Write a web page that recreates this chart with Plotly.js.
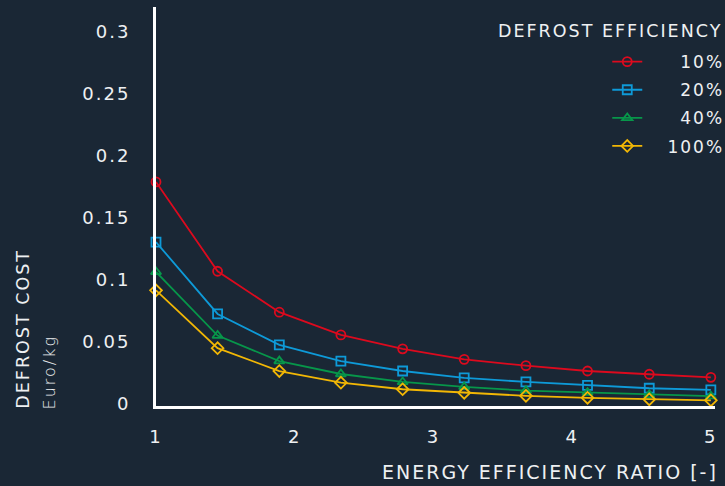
<!DOCTYPE html>
<html><head><meta charset="utf-8">
<script src="https://cdn.plot.ly/plotly-3.0.1.min.js"></script>
<style>
html,body{margin:0;padding:0;background:#1a2735;}
text{letter-spacing:2px;}
</style>
</head><body>
<div id="chart" style="width:725px;height:486px;"></div>
<script>
var eer = [1, 1.444, 1.889, 2.333, 2.778, 3.222, 3.667, 4.111, 4.556, 5];
var cost10 = [0.179, 0.107, 0.074, 0.0557, 0.0445, 0.036, 0.0309, 0.0266, 0.024, 0.0215];
var cost20 = [0.1305, 0.0726, 0.0477, 0.0346, 0.0266, 0.021, 0.0178, 0.0151, 0.0127, 0.0114];
var cost40 = [0.1065, 0.0552, 0.0346, 0.0242, 0.0178, 0.0138, 0.0108, 0.0092, 0.0074, 0.0063];
var cost100 = [0.0916, 0.045, 0.0266, 0.0172, 0.0119, 0.009, 0.0066, 0.005, 0.0038, 0.003];
var seriesNames = ['\u00a0\u2007\u200710%', '\u00a0\u2007\u200720%', '\u00a0\u2007\u200740%', '\u00a0\u2007100%'];
var yTicks = [0, 0.05, 0.1, 0.15, 0.2, 0.25, 0.3];
var yTickText = ['0', '0.05', '0.1', '0.15', '0.2', '0.25', '0.3'];
var xTicks = [1, 2, 3, 4, 5];
var xTickText = ['1', '2', '3', '4', '5'];

var FONT = '"DejaVu Sans", sans-serif';
var TXT = '#eef0f2';
var colors = ['#dc0a1e', '#0e9ad8', '#07964a', '#f2b705'];
var symbols = ['circle-open', 'square-open', 'triangle-up-open', 'diamond-open'];
var ys = [cost10, cost20, cost40, cost100];

var traces = ys.map(function (y, i) {
  return {
    x: eer, y: y, name: seriesNames[i], legendgroup: 'g' + i, type: 'scatter', mode: 'lines+markers',
    line: {color: colors[i], width: 1.8},
    marker: {symbol: symbols[i], size: 9, color: colors[i], line: {width: 1.8, color: colors[i]}},
    cliponaxis: false
  };
});

var layout = {
  width: 725, height: 486,
  paper_bgcolor: '#1a2735', plot_bgcolor: '#1a2735',
  margin: {l: 156, r: 10, t: 7, b: 80, autoexpand: false},
  font: {family: FONT, color: TXT, size: 18},
  showlegend: true,
  legend: {
    x: 1.0255, xanchor: 'right', y: 0.907, yanchor: 'top',
    bgcolor: 'rgba(0,0,0,0)', font: {family: FONT, color: TXT, size: 17},
    itemwidth: 30, tracegroupgap: 3
  },
  xaxis: {
    range: [1, 5.03], tickvals: xTicks, ticktext: xTickText,
    showgrid: false, zeroline: false, showline: true, linecolor: '#ffffff', linewidth: 3,
    ticks: 'outside', ticklen: 12, tickcolor: 'rgba(0,0,0,0)',
    tickfont: {family: FONT, color: TXT, size: 18}
  },
  yaxis: {
    range: [-0.0016, 0.32], tickvals: yTicks, ticktext: yTickText,
    showgrid: false, zeroline: false, showline: true, linecolor: '#ffffff', linewidth: 3,
    ticks: 'outside', ticklen: 19, tickcolor: 'rgba(0,0,0,0)',
    tickfont: {family: FONT, color: TXT, size: 18}
  },
  annotations: [
    {text: 'DEFROST EFFICIENCY', xref: 'paper', yref: 'paper', x: 1.016, y: 0.941,
     xanchor: 'right', yanchor: 'middle', showarrow: false,
     font: {family: FONT, color: TXT, size: 17.5}},
    {text: 'ENERGY EFFICIENCY RATIO [-]', xref: 'paper', yref: 'paper', x: 1.0095, y: -0.165,
     xanchor: 'right', yanchor: 'middle', showarrow: false,
     font: {family: FONT, color: TXT, size: 19}},
    {text: 'DEFROST COST', xref: 'paper', yref: 'paper',
     x: -0.237, y: -0.013, xanchor: 'center', yanchor: 'bottom', textangle: -90, showarrow: false,
     font: {family: FONT, color: TXT, size: 17.5}},
    {text: 'Euro/kg', xref: 'paper', yref: 'paper',
     x: -0.19, y: -0.013, xanchor: 'center', yanchor: 'bottom', textangle: -90, showarrow: false,
     font: {family: '"DejaVu Sans ExtraLight", "DejaVu Sans", sans-serif', weight: 200, color: TXT, size: 16}}
  ]
};

Plotly.newPlot('chart', traces, layout, {displayModeBar: false, staticPlot: true});
</script>
</body></html>
